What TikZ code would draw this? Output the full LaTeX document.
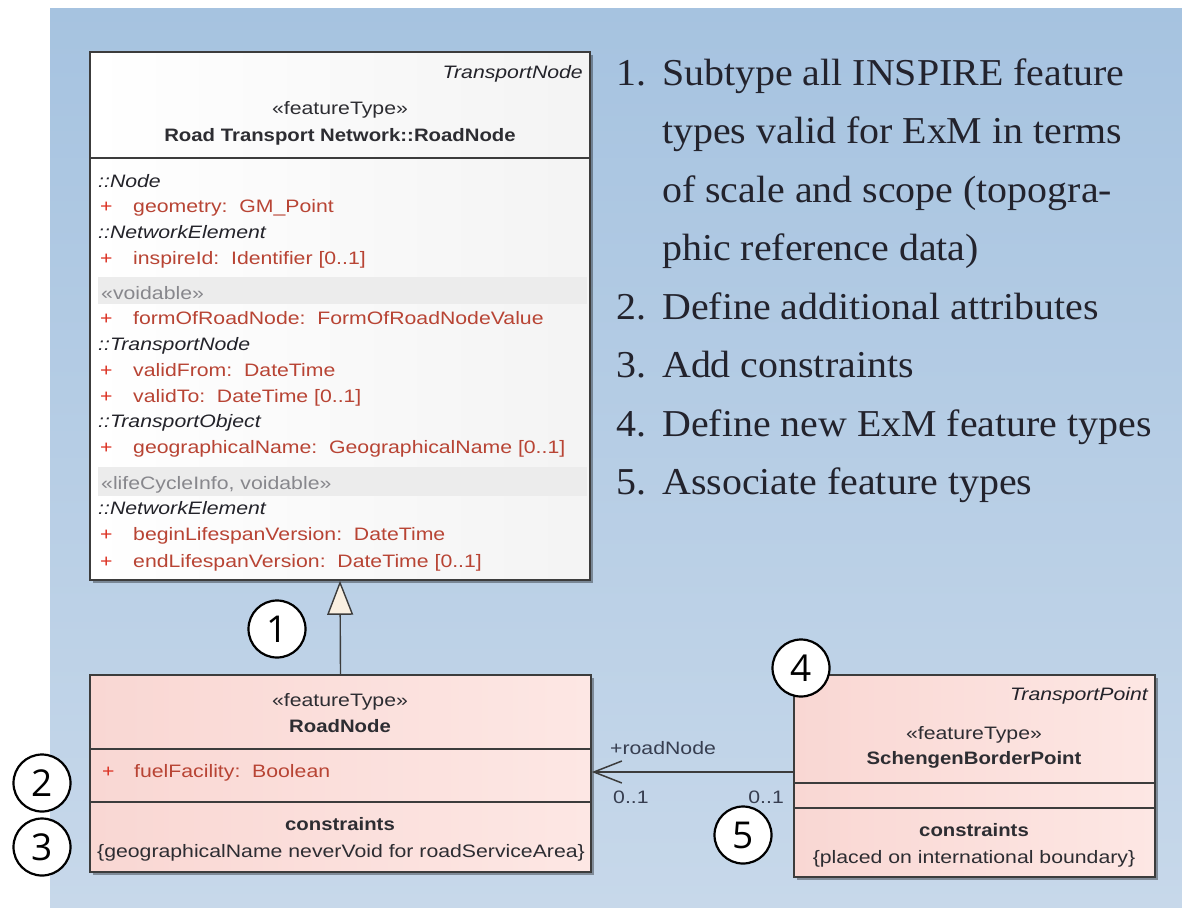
\documentclass[tikz,border=0pt]{standalone}
\usepackage{fontspec}
\setmainfont{Liberation Serif}
\newfontfamily\umlfont[FakeStretch=1.18]{Liberation Sans}
\newfontfamily\umlbold[FakeStretch=1.13]{Liberation Sans}
\newfontfamily\listfont[FakeStretch=1.05]{Liberation Serif}
\newfontfamily\circfont{Open Sans}
\usetikzlibrary{arrows.meta,shadows}
\definecolor{panelTop}{RGB}{166,195,224}
\definecolor{panelBot}{RGB}{199,216,234}
\definecolor{attrc}{RGB}{184,68,52}
\definecolor{plusc}{RGB}{220,50,35}
\definecolor{grpc}{RGB}{35,35,42}
\definecolor{stc}{RGB}{45,45,50}
\definecolor{bandc}{RGB}{236,236,236}
\definecolor{bandtxt}{RGB}{135,135,140}
\definecolor{pinkL}{RGB}{249,215,211}
\definecolor{pinkR}{RGB}{253,231,228}
\definecolor{borderc}{RGB}{60,60,60}
\definecolor{trifill}{RGB}{250,240,225}
\definecolor{listc}{RGB}{35,35,45}
\definecolor{multc}{RGB}{55,62,80}
\begin{document}
\begin{tikzpicture}[x=1pt,y=-1pt,
  classbox/.style={draw=borderc, line width=1.6pt, inner sep=0,
    drop shadow={shadow xshift=3pt, shadow yshift=-3pt, opacity=0.35, fill=black}},
  whitebox/.style={classbox, left color=white, right color=gray!9},
  pinkbox/.style={classbox, left color=pinkL, right color=pinkR},
  sep/.style={draw=borderc, line width=1.6pt},
  u/.style={inner sep=0, text=stc, font=\umlfont\fontsize{18}{20}\selectfont},
  uL/.style={u, anchor=base west},
  uC/.style={u, anchor=base},
  uR/.style={u, anchor=base east},
  ub/.style={uC, font=\umlbold\bfseries\fontsize{18}{20}\selectfont},
  ui/.style={uL, text=grpc, font=\umlfont\itshape\fontsize{18}{20}\selectfont},
  uiR/.style={uR, text=grpc, font=\umlfont\itshape\fontsize{18}{20}\selectfont},
  plus/.style={uL, text=plusc},
  attr/.style={uL, text=attrc},
  band/.style={uL, text=bandtxt},
  mult/.style={inner sep=0, text=multc, font=\umlfont\fontsize{18}{20}\selectfont},
  num/.style={circle, draw=black, line width=2.2pt, fill=white, minimum size=57pt,
    inner sep=0, font=\circfont\fontsize{37}{40}\selectfont},
  listnum/.style={inner sep=0, anchor=base west, text=listc, font=\listfont\fontsize{38}{40}\selectfont},
  listtxt/.style={listnum},
  gen/.style={draw=borderc, line width=1.4pt, -{Triangle[length=34pt,width=26pt,fill=trifill]}},
  assoc/.style={draw=borderc, line width=1.5pt, -{Straight Barb[length=28pt,width=22pt]}}
]
\useasboundingbox (0,0) rectangle (1182,910);
\shade[top color=panelTop, bottom color=panelBot] (50,8) rectangle (1182,907);

% ---------- top class ----------
\node[whitebox, minimum width=500pt, minimum height=528pt] (top) at (340,316) {};
\draw[sep] (90,158) -- (590,158);
\fill[bandc] (98,277) rectangle (587,304);
\fill[bandc] (98,467) rectangle (587,496);
\node[uiR] (tn) at (583,78) {TransportNode};
\node[uC] (ft1) at (340,114) {«featureType»};
\node[ub] (tt) at (340,141) {Road Transport Network::RoadNode};
\node[ui] (g1) at (98,187) {::Node};
\node[ui] (g2) at (98,238) {::NetworkElement};
\node[band] (b1) at (101,299) {«voidable»};
\node[ui] (g3) at (98,350) {::TransportNode};
\node[ui] (g4) at (98,427) {::TransportObject};
\node[band] (b2) at (101,489) {«lifeCycleInfo, voidable»};
\node[ui] (g5) at (98,514) {::NetworkElement};
\foreach \yy/\txt [count=\i] in {
  212/{geometry:~~GM\_Point},
  264/{inspireId:~~Identifier [0..1]},
  324/{formOfRoadNode:~~FormOfRoadNodeValue},
  376/{validFrom:~~DateTime},
  402/{validTo:~~DateTime [0..1]},
  453/{geographicalName:~~GeographicalName [0..1]},
  540/{beginLifespanVersion:~~DateTime},
  567/{endLifespanVersion:~~DateTime [0..1]}} {
  \node[plus] (p\i) at (100,\yy) {+};
  \node[attr] (a\i) at (133,\yy) {\txt};
}

% ---------- RoadNode ----------
\node[pinkbox, minimum width=501pt, minimum height=197pt] (rn) at (340.5,773.5) {};
\draw[sep] (90,749) -- (591,749);
\draw[sep] (90,802) -- (591,802);
\node[uC] (ft2) at (340,706) {«featureType»};
\node[ub] (rnt) at (340,732) {RoadNode};
\node[plus] (p9) at (102,777) {+};
\node[attr] (a9) at (134,777) {fuelFacility:~~Boolean};
\node[ub] (c1) at (340,830) {constraints};
\node[uC] (c1t) at (341,857) {\{geographicalName neverVoid for roadServiceArea\}};

% ---------- SchengenBorderPoint ----------
\node[pinkbox, minimum width=361pt, minimum height=202pt] (sbp) at (974.5,776) {};
\draw[sep] (794,783) -- (1155,783);
\draw[sep] (794,808) -- (1155,808);
\node[uiR] (tp) at (1148,700) {TransportPoint};
\node[uC] (ft3) at (974,739) {«featureType»};
\node[ub] (sbt) at (974,764) {SchengenBorderPoint};
\node[ub] (c2) at (974,836) {constraints};
\node[uC] (c2t) at (974,863) {\{placed on international boundary\}};

% ---------- connectors ----------
\draw[gen] (rn.north) -- (top.south);
\draw[assoc] ([yshift=4pt]sbp.west) -- ([yshift=1.5pt]rn.east);
\node[mult, anchor=base west] (rl) at (610,754) {+roadNode};
\node[mult, anchor=base west] (m1) at (613,803) {0..1};
\node[mult, anchor=base east] (m2) at (784,803) {0..1};

% ---------- numbered circles ----------
\node[num] (k1) at (277,629) {1};
\node[num] (k2) at (42,783) {2};
\node[num] (k3) at (42,847) {3};
\node[num] (k4) at (801,668) {4};
\node[num] (k5) at (743,835) {5};

% ---------- list ----------
\node[listnum] (n1) at (616,85) {1.};
\node[listtxt] (t1a) at (662,85) {Subtype all INSPIRE feature};
\node[listtxt] (t1b) at (662,143.5) {types valid for ExM in terms};
\node[listtxt] (t1c) at (662,202) {of scale and scope (topogra-};
\node[listtxt] (t1d) at (662,260.5) {phic reference data)};
\node[listnum] (n2) at (616,319) {2.};
\node[listtxt] (t2) at (662,319) {Define additional attributes};
\node[listnum] (n3) at (616,377.5) {3.};
\node[listtxt] (t3) at (662,377.5) {Add constraints};
\node[listnum] (n4) at (616,436) {4.};
\node[listtxt] (t4) at (662,436) {Define new ExM feature types};
\node[listnum] (n5) at (616,494.5) {5.};
\node[listtxt] (t5) at (662,494.5) {Associate feature types};
\end{tikzpicture}
\end{document}
